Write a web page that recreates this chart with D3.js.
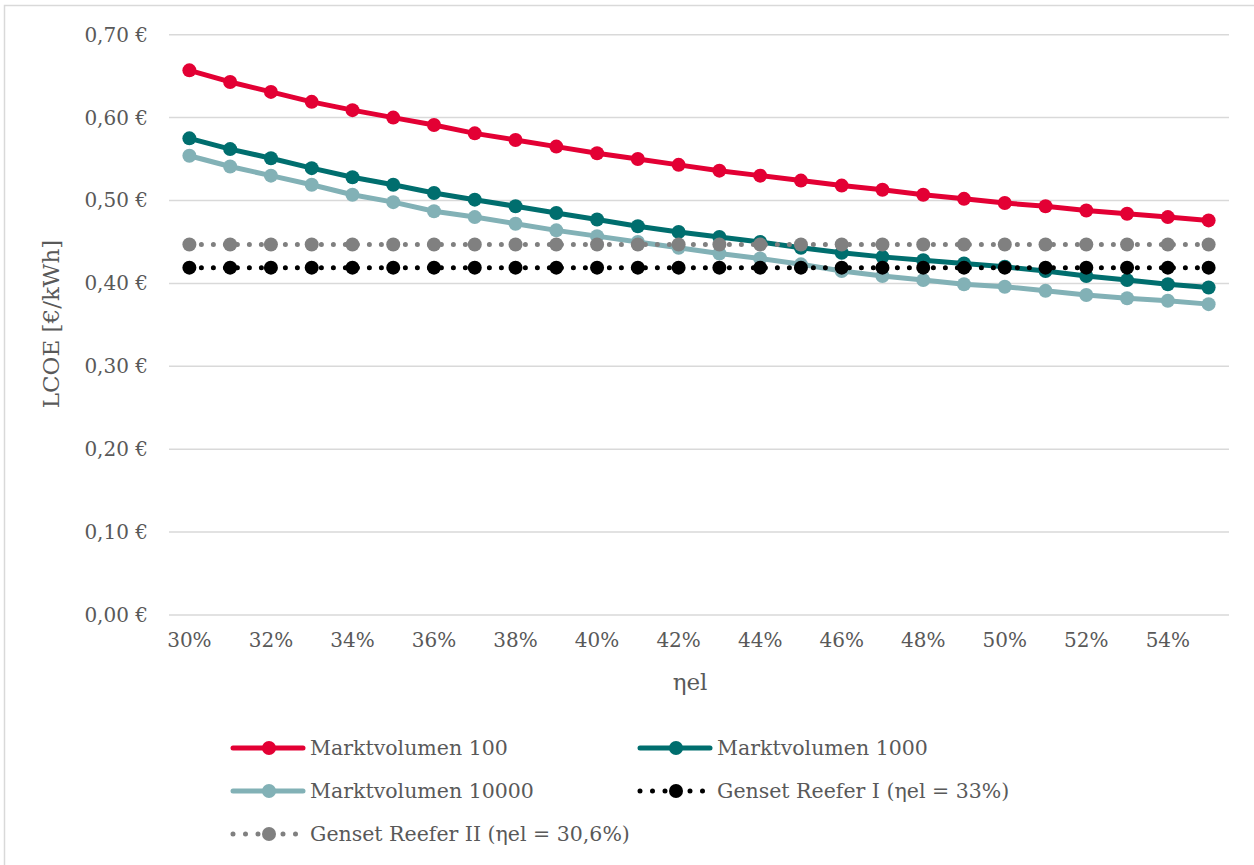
<!DOCTYPE html>
<html>
<head>
<meta charset="utf-8">
<script src="https://cdn.jsdelivr.net/npm/d3@7"></script>
<style>
  html, body { margin: 0; padding: 0; background: #fff; }
  svg { display: block; font-family: "DejaVu Serif", serif; }
</style>
</head>
<body>
<svg id="chart" width="1254" height="865"></svg>
<script>
// Electrical efficiency categories (x axis)
const categories = [30,31,32,33,34,35,36,37,38,39,40,41,42,43,44,45,46,47,48,49,50,51,52,53,54,55];
const xTickLabels = [30,32,34,36,38,40,42,44,46,48,50,52,54];
const yTicks = [0, 0.1, 0.2, 0.3, 0.4, 0.5, 0.6, 0.7];

// LCOE in €/kWh per series
const mv100 = [0.657,0.643,0.631,0.619,0.609,0.600,0.591,0.581,0.573,0.565,0.557,0.550,0.543,0.536,0.530,0.524,0.518,0.513,0.507,0.502,0.497,0.493,0.488,0.484,0.480,0.476];
const mv1000 = [0.575,0.562,0.551,0.539,0.528,0.519,0.509,0.501,0.493,0.485,0.477,0.469,0.462,0.456,0.450,0.443,0.437,0.432,0.428,0.424,0.420,0.415,0.409,0.404,0.399,0.395];
const mv10000 = [0.554,0.541,0.530,0.519,0.507,0.498,0.487,0.480,0.472,0.464,0.457,0.450,0.443,0.436,0.430,0.423,0.415,0.409,0.404,0.399,0.396,0.391,0.386,0.382,0.379,0.375];
const gensetI = categories.map(() => 0.419);
const gensetII = categories.map(() => 0.447);

const seriesNames = ["Marktvolumen 100", "Marktvolumen 1000", "Marktvolumen 10000", "Genset Reefer I (ηel = 33%)", "Genset Reefer II (ηel = 30,6%)"];
const seriesColors = ["#e30034", "#006e6e", "#82b1b6", "#000000", "#808080"];

const series = [
  { name: seriesNames[0], values: mv100, color: seriesColors[0], dotted: false },
  { name: seriesNames[1], values: mv1000, color: seriesColors[1], dotted: false },
  { name: seriesNames[2], values: mv10000, color: seriesColors[2], dotted: false },
  { name: seriesNames[3], values: gensetI, color: seriesColors[3], dotted: true },
  { name: seriesNames[4], values: gensetII, color: seriesColors[4], dotted: true }
];

const svg = d3.select("#chart");
const plot = { left: 169, right: 1229, top: 34.7, bottom: 615 };

const x = d3.scaleBand().domain(categories).range([plot.left, plot.right]);
const cx = c => x(c) + x.bandwidth() / 2;
const y = d3.scaleLinear().domain([0, 0.7]).range([plot.bottom, plot.top]);

// outer frame
svg.append("rect")
  .attr("x", 4.5).attr("y", 5.5).attr("width", 1262).attr("height", 880)
  .attr("fill", "none").attr("stroke", "#d9d9d9").attr("stroke-width", 1.5);

// horizontal gridlines
svg.append("g").selectAll("line").data(yTicks).join("line")
  .attr("x1", plot.left).attr("x2", plot.right)
  .attr("y1", d => y(d)).attr("y2", d => y(d))
  .attr("stroke", "#d9d9d9").attr("stroke-width", 1.5);

// y axis labels
const fmtEuro = d => d3.format(".2f")(d).replace(".", ",") + " €";
const yAxis = d3.axisLeft(y).tickValues(yTicks).tickFormat(fmtEuro).tickSize(0).tickPadding(0);
const gy = svg.append("g").attr("transform", "translate(148,0)").call(yAxis);
gy.select(".domain").remove();
gy.selectAll("text").attr("font-size", 20).attr("fill", "#595959")
  .attr("font-family", "DejaVu Serif, serif");

// x axis labels (every other category)
const xAxis = d3.axisBottom(x).tickValues(xTickLabels).tickFormat(d => d + "%").tickSize(0).tickPadding(0);
const gx = svg.append("g").attr("transform", "translate(0,633)").call(xAxis);
gx.select(".domain").remove();
gx.selectAll("text").attr("font-size", 20).attr("fill", "#595959")
  .attr("font-family", "DejaVu Serif, serif").attr("dy", "0.7em");

// axis titles
svg.append("text").attr("x", 690).attr("y", 690).attr("text-anchor", "middle")
  .attr("font-size", 23).attr("fill", "#595959").text("ηel");
svg.append("text")
  .attr("transform", "translate(59,324) rotate(-90)")
  .attr("text-anchor", "middle").attr("font-size", 23).attr("fill", "#595959")
  .text("LCOE [€/kWh]");

// series lines and markers, in series order (later series on top)
const line = d3.line().x((d, i) => cx(categories[i])).y(d => y(d));
const gS = svg.append("g");
series.forEach(s => {
  const g = gS.append("g");
  g.append("path").datum(s.values)
    .attr("d", line).attr("fill", "none")
    .attr("stroke", s.color)
    .attr("stroke-width", 5)
    .attr("stroke-linecap", "round")
    .attr("stroke-linejoin", "round")
    .attr("stroke-dasharray", s.dotted ? "0 12" : null);
  g.selectAll("circle").data(s.values).join("circle")
    .attr("cx", (d, i) => cx(categories[i])).attr("cy", d => y(d))
    .attr("r", 7).attr("fill", s.color);
});

// legend
const legendItems = [
  { s: series[0], x: 233, y: 748 },
  { s: series[1], x: 640, y: 748 },
  { s: series[2], x: 233, y: 791 },
  { s: series[3], x: 640, y: 791 },
  { s: series[4], x: 233, y: 834 }
];
const gL = svg.append("g");
legendItems.forEach(it => {
  const g = gL.append("g").attr("transform", `translate(${it.x},${it.y})`);
  if (it.s.dotted) {
    g.append("line").attr("x1", 0).attr("x2", 66).attr("y1", 0).attr("y2", 0)
      .attr("stroke", it.s.color).attr("stroke-width", 5)
      .attr("stroke-linecap", "round").attr("stroke-dasharray", "0 12.5");
  } else {
    g.append("line").attr("x1", 0).attr("x2", 70).attr("y1", 0).attr("y2", 0)
      .attr("stroke", it.s.color).attr("stroke-width", 5).attr("stroke-linecap", "round");
  }
  g.append("circle").attr("cx", 36).attr("cy", 0).attr("r", 7).attr("fill", it.s.color);
  g.append("text").attr("x", 77).attr("y", 0).attr("dy", "0.35em")
    .attr("font-size", 20.5).attr("fill", "#595959").text(it.s.name);
});
</script>
</body>
</html>
